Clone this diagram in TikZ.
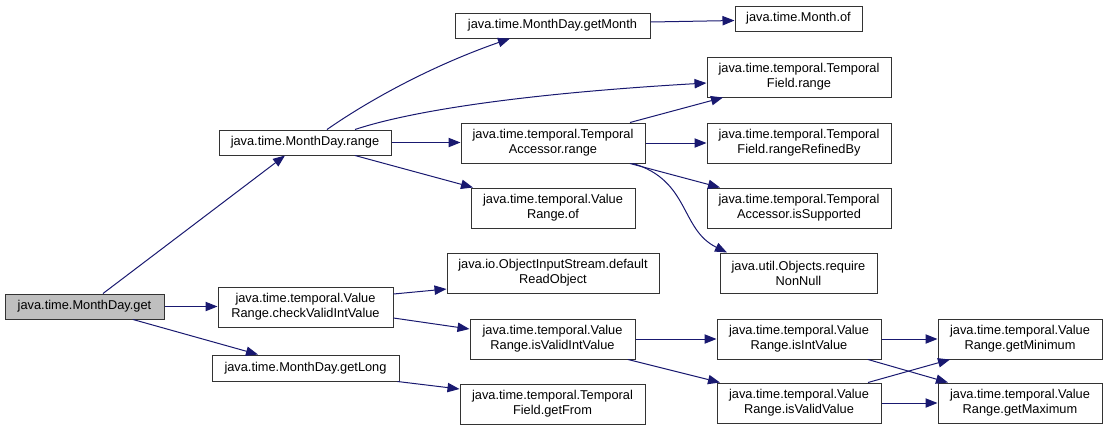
\documentclass[tikz,border=0pt]{standalone}
\usepackage{fontspec}
\setmainfont{Liberation Sans}
\usetikzlibrary{arrows.meta,calc}
\definecolor{edgeblue}{HTML}{191970}
\definecolor{rootgray}{HTML}{BFBFBF}
\newcommand{\nbox}[7][]{%
  \pgfmathsetmacro\bxcx{(#3+#5)/2}%
  \pgfmathsetmacro\bxcy{(#4+#6)/2}%
  \pgfmathsetmacro\bxw{(#5-#3)*0.75}%
  \pgfmathsetmacro\bxh{(#6-#4)*0.75}%
  \node[box,#1,minimum width=\bxw pt,minimum height=\bxh pt] (#2) at (\bxcx,\bxcy) {#7};}
\begin{document}
\begin{tikzpicture}[x=0.75pt,y=-0.75pt,
  box/.style={draw=black!80, line width=0.75pt, inner sep=0pt, align=center, fill=white,
    font=\fontsize{9.6}{11.25}\selectfont},
  root/.style={fill=rootgray},
  edge/.style={draw=edgeblue, line width=0.75pt, -{Triangle[length=9pt,width=7pt]}}]
\useasboundingbox (0,0) rectangle (1108,430);
\nbox[root]{get}{5}{294}{164}{319}{java.time.MonthDay.get}
\nbox{range}{219}{130}{391}{155}{java.time.MonthDay.range}
\nbox{check}{218}{287}{393}{327}{java.time.temporal.Value\\Range.checkValidIntValue}
\nbox{getlong}{212}{355}{399}{381}{java.time.MonthDay.getLong}
\nbox{getmonth}{455}{13}{650}{38}{java.time.MonthDay.getMonth}
\nbox{monthof}{735}{6}{862}{31}{java.time.Month.of}
\nbox{tfr}{707}{57}{891}{97}{java.time.temporal.Temporal\\Field.range}
\nbox{tar}{461}{123}{645}{163}{java.time.temporal.Temporal\\Accessor.range}
\nbox{refined}{707}{123}{891}{163}{java.time.temporal.Temporal\\Field.rangeRefinedBy}
\nbox{issupp}{707}{188}{891}{228}{java.time.temporal.Temporal\\Accessor.isSupported}
\nbox{vrof}{471}{188}{635}{228}{java.time.temporal.Value\\Range.of}
\nbox{ois}{447}{253}{659}{293}{java.io.ObjectInputStream.default\\ReadObject}
\nbox{nonnull}{720}{253}{877}{293}{java.util.Objects.require\\NonNull}
\nbox{ivi}{470}{319}{635}{359}{java.time.temporal.Value\\Range.isValidIntValue}
\nbox{iiv}{717}{319}{881}{359}{java.time.temporal.Value\\Range.isIntValue}
\nbox{gmin}{938}{319}{1102}{359}{java.time.temporal.Value\\Range.getMinimum}
\nbox{getfrom}{460}{384}{645}{424}{java.time.temporal.Temporal\\Field.getFrom}
\nbox{ivv}{717}{383}{881}{423}{java.time.temporal.Value\\Range.isValidValue}
\nbox{gmax}{938}{383}{1102}{423}{java.time.temporal.Value\\Range.getMaximum}
% edges
\draw[edge] ($(get.north)+(18.5,0)$) -- ($(range.south)+(-20,0)$);
\draw[edge] (get.east) -- (get.east -| check.west);
\draw[edge] ($(get.south)+(48.5,0)$) -- ($(getlong.north)+(-47.5,0)$);
\draw[edge] ($(range.north)+(22,0)$) .. controls ($(range.north)+(65,-30)$) and ($(getmonth.south)+(-120,27)$) .. ($(getmonth.south)+(-42.5,0)$);
\draw[edge] ($(range.north)+(50,0)$) .. controls ($(range.north)+(95,-15)$) and ($(tfr.west)+(-207,18)$) .. ($(tfr.west)+(0,6)$);
\draw[edge] (range.east) -- (range.east -| tar.west);
\draw[edge] ($(range.south)+(50,0)$) -- ($(vrof.north)+(-80,0)$);
\draw[edge] ($(getmonth.east)+(0,-3.5)$) -- ($(monthof.west)+(0,2)$);
\draw[edge] ($(tar.north)+(77,0)$) -- ($(tfr.south)+(-76,0)$);
\draw[edge] (tar.east) -- (tar.east -| refined.west);
\draw[edge] ($(tar.south)+(77,0)$) -- ($(issupp.north)+(-79,0)$);
\draw[edge] ($(tar.south)+(80,0)$) .. controls ($(tar.south)+(137,17)$) and ($(nonnull.north)+(-118.5,-23)$) .. ($(nonnull.north)+(-71.5,0)$);
\draw[edge] ($(check.east)+(0,-13)$) -- ($(ois.west)+(0,16)$);
\draw[edge] ($(check.east)+(0,11)$) -- ($(ivi.west)+(0,-10)$);
\draw[edge] ($(getlong.south east)+(-2,0)$) -- ($(getfrom.west)+(0,-15)$);
\draw[edge] (ivi.east) -- (ivi.east -| iiv.west);
\draw[edge] ($(ivi.south)+(75.5,0)$) -- ($(ivv.north)+(-79,0)$);
\draw[edge] (iiv.east) -- (iiv.east -| gmin.west);
\draw[edge] ($(iiv.south)+(69,0)$) -- ($(gmax.north)+(-72,0)$);
\draw[edge] ($(ivv.north)+(69,0)$) -- ($(gmin.south)+(-70,0)$);
\draw[edge] (ivv.east) -- (ivv.east -| gmax.west);
\end{tikzpicture}
\end{document}
